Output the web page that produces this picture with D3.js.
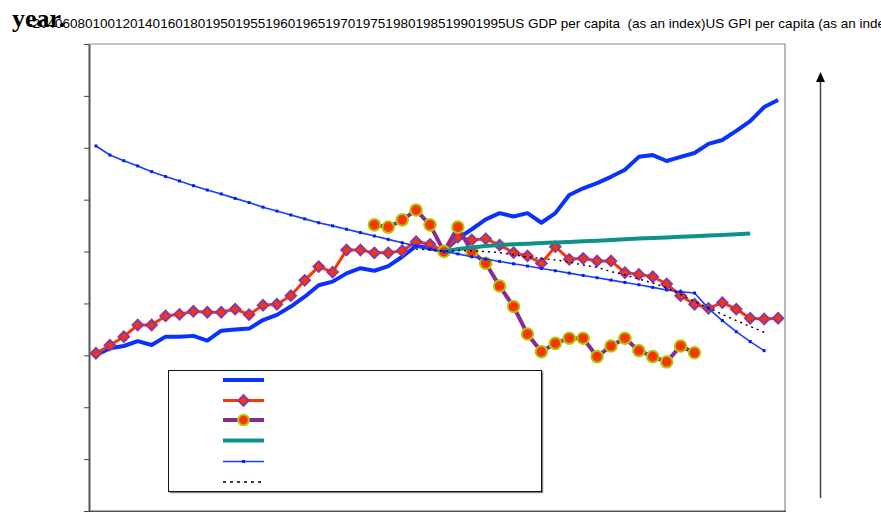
<!DOCTYPE html>
<html>
<head>
<meta charset="utf-8">
<script src="https://cdn.jsdelivr.net/npm/d3@7"></script>
<style>
  body { margin: 0; overflow: hidden; background: #fff; }
</style>
</head>
<body>
<div id="chart"></div>
<script>
// categories and labels
const years = d3.range(1950, 2000);
const yTickLabels = ["-", "20", "40", "60", "80", "100", "120", "140", "160", "180"];
const xTickLabels = ["1950", "1955", "1960", "1965", "1970", "1975", "1980", "1985", "1990", "1995"];
const seriesNames = ["US GDP per capita  (as an index)", "US GPI per capita (as an index)"];

// US GDP per capita, 1950-1999
const gdp = [60.1, 62.7, 63.6, 65.5, 64.0, 67.2, 67.2, 67.5, 65.7, 69.5,
             70.0, 70.3, 73.6, 75.6, 78.8, 82.6, 87.0, 88.4, 91.6, 93.6,
             92.6, 94.4, 98.0, 102.2, 101.3, 100.0, 105.1, 108.6, 112.4, 114.8,
             113.5, 114.8, 111.1, 114.8, 121.8, 124.4, 126.4, 128.8, 131.5, 136.5,
             137.2, 134.9, 136.5, 138.0, 141.5, 143.0, 146.5, 150.3, 155.7, 158.4];

// US GPI per capita, 1950-1999
const gpi = [60.8, 63.9, 67.2, 71.7, 71.7, 75.2, 75.8, 77.0, 76.6, 76.6,
             77.8, 75.7, 79.3, 79.7, 83.0, 88.9, 94.2, 92.1, 100.6, 100.6,
             99.5, 99.5, 100.3, 103.8, 102.8, 100.1, 105.6, 104.5, 104.9, 102.5,
             99.6, 98.3, 95.5, 101.9, 97.0, 97.4, 96.4, 96.4, 91.9, 91.2,
             90.3, 87.5, 83.0, 79.7, 78.1, 80.3, 77.8, 74.3, 74.0, 74.3];

// third series, 1970-1993
const circleStart = 1970;
const circles = [110.3, 109.4, 112.2, 116.0, 110.3, 100.0, 109.4, 100.0, 95.5, 86.7,
                 78.8, 68.2, 61.4, 64.6, 66.6, 66.6, 59.5, 63.6, 66.6, 61.8,
                 59.5, 57.5, 63.6, 61.0];

// teal series, 1975-1997
const tealStart = 1975;
const teal = [100.0, 101.0, 101.6, 102.1, 102.5, 102.8, 103.0, 103.3, 103.5, 103.7,
              104.0, 104.2, 104.5, 104.7, 105.0, 105.2, 105.4, 105.7, 105.9, 106.2,
              106.4, 106.7, 107.0];

// thin blue series, 1950-1998
const thin = [140.7, 137.2, 135.0, 133.0, 130.8, 128.9, 127.2, 125.4, 123.7, 122.2,
              120.5, 118.9, 117.1, 115.6, 114.1, 112.6, 111.1, 109.9, 108.6, 107.3,
              106.0, 104.7, 103.4, 102.2, 101.0, 100.0, 99.1, 98.0, 97.1, 96.2,
              95.3, 94.4, 93.5, 92.6, 91.7, 90.8, 89.9, 89.0, 88.1, 87.2,
              86.2, 85.2, 84.5, 84.0, 78.1, 73.4, 69.1, 65.3, 61.8];

// dotted trend, 1973-1998
const trendStart = 1973;
const trend = [101.0, 100.6, 100.2, 100.4, 100.3, 100.0, 99.6, 98.7, 97.9, 97.3,
               96.8, 96.0, 94.8, 93.9, 92.3, 91.0, 89.4, 87.9, 86.0, 83.5,
               80.8, 78.3, 75.8, 73.4, 71.1, 68.9];

const W = 881, H = 512;
const plot = {left: 89, right: 785, top: 44, bottom: 511};

const svg = d3.select("#chart")
    .append("svg")
    .attr("width", W)
    .attr("height", H)
    .style("font-family", "Arial, 'Liberation Sans', sans-serif");

const x = d3.scaleBand()
    .domain(years)
    .range([plot.left, plot.right]);
const cx = yr => x(yr) + x.bandwidth() / 2;

const y = d3.scaleLinear()
    .domain([0, 180])
    .range([plot.bottom, plot.top]);

// plot frame (top + right)
svg.append("path")
    .attr("d", `M${plot.left},${plot.top}H${plot.right}V${plot.bottom}`)
    .attr("fill", "none")
    .attr("stroke", "#8c8c8c")
    .attr("stroke-width", 1.2);

// y axis, no labels
const yAxis = svg.append("g")
    .attr("transform", `translate(${plot.left},0)`)
    .call(d3.axisLeft(y)
        .tickValues(d3.range(0, 181, 20))
        .tickSize(5)
        .tickSizeOuter(0)
        .tickFormat(""));
yAxis.select(".domain").attr("stroke", "#555").attr("stroke-width", 2);
yAxis.selectAll(".tick line").attr("stroke", "#444");

// x axis, ticks on category boundaries
const xEdge = d3.scaleLinear().domain([0, years.length]).range([plot.left, plot.right]);
const xAxis = svg.append("g")
    .attr("transform", `translate(0,${plot.bottom})`)
    .call(d3.axisBottom(xEdge)
        .tickValues(d3.range(0, years.length + 1))
        .tickSize(5)
        .tickSizeOuter(0)
        .tickFormat(""));
xAxis.select(".domain").attr("stroke", "#555").attr("stroke-width", 2);
xAxis.selectAll(".tick line").attr("stroke", "#444");

function toPoints(values, start) {
    return values.map((v, i) => ({year: start + i, value: v}));
}

const line = d3.line()
    .x(d => cx(d.year))
    .y(d => y(d.value));

// square turned 45deg = the spreadsheet diamond marker
const diamond = d3.symbol().type(d3.symbolSquare).size(52);
const diaAt = (px, py) => `translate(${px},${py}) rotate(45)`;

function drawGdp(g, data) {
    g.append("path").datum(data)
        .attr("fill", "none").attr("stroke", "#0a32ff")
        .attr("stroke-width", 4).attr("stroke-linejoin", "round")
        .attr("d", line);
}

function drawGpi(g, data) {
    g.append("path").datum(data)
        .attr("fill", "none").attr("stroke", "#ff3300")
        .attr("stroke-width", 3).attr("d", line);
    g.selectAll(".dia").data(data).enter().append("path")
        .attr("transform", d => diaAt(cx(d.year), y(d.value)))
        .attr("d", diamond)
        .attr("fill", "#ff3300")
        .attr("stroke", "#8e3a9d")
        .attr("stroke-width", 2.2);
}

function drawCircles(g, data) {
    g.append("path").datum(data)
        .attr("fill", "none").attr("stroke", "#8b2a90")
        .attr("stroke-width", 4).attr("d", line);
    g.selectAll(".dot").data(data).enter().append("circle")
        .attr("cx", d => cx(d.year))
        .attr("cy", d => y(d.value))
        .attr("r", 5.8)
        .attr("fill", "#ff3300")
        .attr("stroke", "#a8cc0a")
        .attr("stroke-width", 2);
}

function drawTeal(g, data) {
    g.append("path").datum(data)
        .attr("fill", "none").attr("stroke", "#0e918a")
        .attr("stroke-width", 4).attr("d", line);
}

function drawThin(g, data) {
    g.append("path").datum(data)
        .attr("fill", "none").attr("stroke", "#1a3cff")
        .attr("stroke-width", 1.6).attr("d", line);
    g.selectAll(".sq").data(data).enter().append("rect")
        .attr("x", d => cx(d.year) - 1.5)
        .attr("y", d => y(d.value) - 1.5)
        .attr("width", 3).attr("height", 3)
        .attr("fill", "#0022ee");
}

function drawTrend(g, data) {
    g.append("path").datum(data)
        .attr("fill", "none").attr("stroke", "#000")
        .attr("stroke-width", 1.4)
        .attr("stroke-dasharray", "2,4")
        .attr("d", line);
}

const marks = svg.append("g");
drawGdp(marks.append("g"), toPoints(gdp, 1950));
drawGpi(marks.append("g"), toPoints(gpi, 1950));
drawCircles(marks.append("g"), toPoints(circles, circleStart));
drawTeal(marks.append("g"), toPoints(teal, tealStart));
drawThin(marks.append("g"), toPoints(thin, 1950));
drawTrend(marks.append("g"), toPoints(trend, trendStart));

// legend box (labels missing, as in the source)
const lg = {x: 168.5, y: 370.5, w: 373, h: 121};
svg.append("path")
    .attr("d", `M${lg.x + 1},${lg.y + lg.h + 1}H${lg.x + lg.w + 1}V${lg.y + 1}`)
    .attr("fill", "none").attr("stroke", "#888").attr("stroke-width", 1.5);
svg.append("rect")
    .attr("x", lg.x).attr("y", lg.y)
    .attr("width", lg.w).attr("height", lg.h)
    .attr("fill", "none").attr("stroke", "#111").attr("stroke-width", 1);

const legendStyles = [["#0a32ff", 4], ["#ff3300", 3], ["#8b2a90", 4], ["#0e918a", 4], ["#1a3cff", 1.6], ["#000", 1.4]];
const rowY = [380, 400.5, 420, 440.5, 461.5, 482];
const legendX = d3.scaleLinear().domain([0, 1]).range([223, 264]);
legendStyles.forEach((col, i) => {
    const g = svg.append("g");
    const lx = d3.line().x(d => legendX(d.t)).y(() => rowY[i]);
    g.append("path").datum([{t: 0}, {t: 1}])
        .attr("fill", "none").attr("stroke", col[0]).attr("stroke-width", col[1])
        .attr("stroke-dasharray", i === 5 ? "3,4" : null)
        .attr("d", lx);
    const mx = legendX(0.5);
    if (i === 1) {
        g.append("path").attr("transform", diaAt(mx, rowY[i]))
            .attr("d", diamond).attr("fill", "#ff3300")
            .attr("stroke", "#8e3a9d").attr("stroke-width", 2.2);
    } else if (i === 2) {
        g.append("circle").attr("cx", mx).attr("cy", rowY[i]).attr("r", 5.3)
            .attr("fill", "#ff3300").attr("stroke", "#a8cc0a").attr("stroke-width", 2);
    } else if (i === 4) {
        g.append("rect").attr("x", mx - 1.5).attr("y", rowY[i] - 1.5)
            .attr("width", 3).attr("height", 3).attr("fill", "#0022ee");
    }
});

// arrow on the right
svg.append("line")
    .attr("x1", 820.5).attr("x2", 820.5)
    .attr("y1", 498).attr("y2", 80)
    .attr("stroke", "#444").attr("stroke-width", 1.5);
svg.append("path")
    .attr("d", "M820.5,72L816,82H825Z")
    .attr("fill", "#000");

// garbled title line: all labels run together
svg.append("text")
    .attr("x", 28)
    .attr("y", 28)
    .style("font-size", "13.5px")
    .style("white-space", "pre")
    .attr("fill", "#000")
    .text(yTickLabels.join("") + xTickLabels.join("") + seriesNames.join(""));

svg.append("text")
    .attr("x", 12)
    .attr("y", 27)
    .style("font-family", "'Liberation Serif', 'Times New Roman', serif")
    .style("font-weight", "bold")
    .style("font-size", "26px")
    .attr("fill", "#000")
    .text("year.");
</script>
</body>
</html>
